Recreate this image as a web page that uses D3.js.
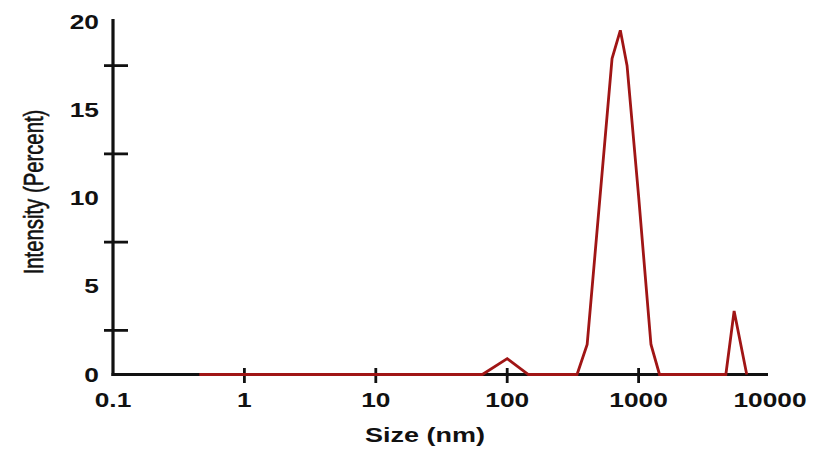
<!DOCTYPE html>
<html><head><meta charset="utf-8">
<script src="https://cdn.jsdelivr.net/npm/d3@7/dist/d3.min.js"></script>
<style>body{margin:0;background:#fff}svg{display:block}</style>
</head><body>
<svg id="c" width="815" height="455"></svg>
<script>
// Data
const sizes = [0.454, 64.7, 100, 145, 340, 406, 628, 726, 817, 1000, 1242, 1443, 4613, 5333, 6653];
const intensity = [0, 0, 0.9, 0, 0, 1.7, 17.9, 19.5, 17.5, 10.1, 1.7, 0, 0, 3.6, 0];
const xTickValues = [0.1, 1, 10, 100, 1000, 10000];
const xTickLabels = ["0.1", "1", "10", "100", "1000", "10000"];
const xMarkValues = [1, 10, 100, 1000];
const yLabelValues = [0, 5, 10, 15, 20];
const yMarkValues = [2.5, 7.5, 12.5, 17.5];

const svg = d3.select("#c");
const x = d3.scaleLog().domain([0.1, 10000]).range([113, 770]);
const y = d3.scaleLinear().domain([0, 20]).range([374.5, 21.5]);
const SX = 1.35; // horizontal stretch of text in reference
const font = "Liberation Sans, Arial, Helvetica, sans-serif";

// axes lines
svg.append("line").attr("x1", x(0.1)).attr("x2", x(0.1)).attr("y1", 19).attr("y2", y(0) + 1.5)
  .attr("stroke", "#111").attr("stroke-width", 3.2);
svg.append("line").attr("x1", x(0.1) - 1.5).attr("x2", 768).attr("y1", y(0)).attr("y2", y(0))
  .attr("stroke", "#111").attr("stroke-width", 2.8);

// y cross ticks
svg.selectAll(".ym").data(yMarkValues).enter().append("line")
  .attr("x1", 104).attr("x2", 128).attr("y1", d => y(d)).attr("y2", d => y(d))
  .attr("stroke", "#111").attr("stroke-width", 2.8);
// x cross ticks
svg.selectAll(".xm").data(xMarkValues).enter().append("line")
  .attr("x1", d => x(d)).attr("x2", d => x(d)).attr("y1", 368).attr("y2", 383)
  .attr("stroke", "#111").attr("stroke-width", 2.8);

// y labels
svg.selectAll(".yl").data(yLabelValues).enter().append("text")
  .attr("transform", d => `translate(99,${y(d) + 7}) scale(${SX},1)`)
  .attr("text-anchor", "end").attr("font-family", font).attr("font-weight", "bold")
  .attr("font-size", 19.5).attr("fill", "#111").text(d => d);

// x labels
svg.selectAll(".xl").data(xTickValues).enter().append("text")
  .attr("transform", d => `translate(${x(d)},407) scale(${SX},1)`)
  .attr("text-anchor", "middle").attr("font-family", font).attr("font-weight", "bold")
  .attr("font-size", 19.5).attr("fill", "#111").text((d, i) => xTickLabels[i]);

// axis titles
svg.append("text").attr("transform", `translate(425,442) scale(${SX},1)`)
  .attr("text-anchor", "middle").attr("font-family", font).attr("font-weight", "bold")
  .attr("font-size", 20).attr("fill", "#111").text("Size (nm)");
svg.append("text").attr("transform", `translate(43,192) scale(${SX},1) rotate(-90)`)
  .attr("text-anchor", "middle").attr("font-family", font)
  .attr("font-size", 20.3).attr("fill", "#111").attr("stroke", "#111").attr("stroke-width", 0.45)
  .text("Intensity (Percent)");

// data line
const line = d3.line().x(d => x(d[0])).y(d => y(d[1]));
svg.append("path").datum(sizes.map((s, i) => [s, intensity[i]]))
  .attr("d", line).attr("fill", "none").attr("stroke", "#a01515")
  .attr("stroke-width", 2.8).attr("stroke-linejoin", "miter");
</script>
</body></html>
